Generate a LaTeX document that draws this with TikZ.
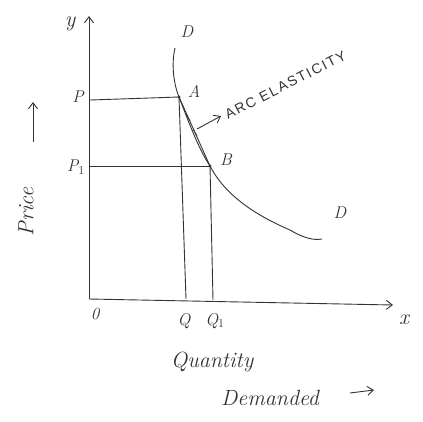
\documentclass[tikz,border=0pt]{standalone}
\usepackage{fontspec}
\newfontfamily\arcfont[LetterSpace=12]{Liberation Sans}
\usetikzlibrary{arrows.meta}
\begin{document}
\begin{tikzpicture}[x=1pt,y=-1pt,
  ln/.style={line width=0.9pt,draw=black!80},
  lbl/.style={font=\itshape\fontsize{17}{20}\selectfont,text=black!80,inner sep=1pt},
  big/.style={font=\itshape\fontsize{22}{26}\selectfont,text=black!80,inner sep=1pt},
  tip/.style={-{Straight Barb[length=6pt,width=9pt]}}]
\useasboundingbox (0,0) rectangle (423,421);
% axes
\coordinate (O) at (89,299);
\coordinate (Ytop) at (89,16);
\coordinate (Xend) at (393,305);
\draw[ln,tip] (O) -- (Ytop);
\draw[ln,tip] (O) -- (Xend);
% points
\coordinate (A) at (179,97);
\coordinate (B) at (210,166);
\coordinate (Pl) at (90,100);
\coordinate (P1l) at (90,166);
\coordinate (Qb) at (186,299);
\coordinate (Q1b) at (213,300);
\fill[black!80] (A) circle (1.6);
\fill[black!80] (B) circle (1.6);
\draw[ln] (Pl) -- (A);
\draw[ln] (P1l) -- (B);
\draw[ln] (A) -- (Qb);
\draw[ln] (B) -- (Q1b);
% demand curve
\draw[ln] (175,48) .. controls (171,65) and (174,85) .. (A)
  .. controls (188,120) and (198,148) .. (B)
  .. controls (225,195) and (255,215) .. (290,230)
  .. controls (300,236) and (312,241) .. (322,239);
% chord
\draw[ln] (A) -- (B);
\draw[ln] (186,114) -- (190,121);
\draw[ln] (193,129) -- (197,136);
% arrow to label
\coordinate (ar1) at (197,129);
\coordinate (ar2) at (221,116);
\draw[ln,tip] (ar1) -- (ar2);
\node[text=black!80,font=\arcfont\fontsize{14}{16}\selectfont,rotate=27,anchor=south west,inner sep=0pt] (arc) at (228,120) {ARC ELASTICITY};
% labels
\node[big] (ylab) at (70,24) {y};
\node[big] (xlab) at (404,320) {x};
\node[lbl] (Dtop) at (187,32) {D};
\node[lbl] (Dbot) at (340,213) {D};
\node[lbl] (Alab) at (194,91) {A};
\node[lbl] (Blab) at (226,160) {B};
\node[lbl] (Plab) at (78,97) {P};
\node[lbl] (P1lab) at (76,167) {P$_1$};
\node[lbl] (Olab) at (95,314) {0};
\node[lbl] (Qlab) at (184,321) {Q};
\node[lbl] (Q1lab) at (215,321) {Q$_1$};
\node[big,rotate=90] (price) at (26,212) {Price};
\coordinate (pa1) at (33,142);
\coordinate (pa2) at (33,102);
\draw[ln,tip] (pa1) -- (pa2);
\node[big] (qty) at (212,362) {Quantity};
\node[big] (dem) at (270,398) {Demanded};
\coordinate (da1) at (350,393);
\coordinate (da2) at (374,390);
\draw[ln,tip] (da1) -- (da2);
\end{tikzpicture}
\end{document}
